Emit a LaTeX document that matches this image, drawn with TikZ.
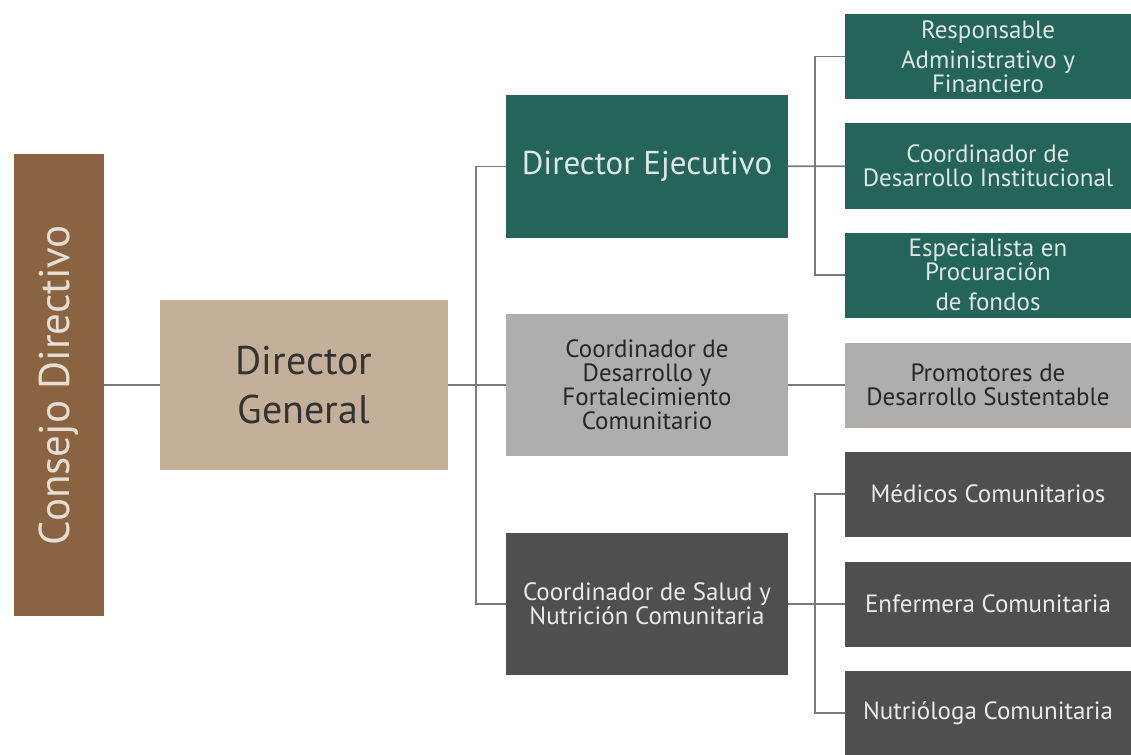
\documentclass[tikz,border=0pt]{standalone}
\usepackage{fontspec}
\setmainfont{PT Sans}
\definecolor{cafe}{HTML}{8A6440}
\definecolor{arena}{HTML}{C4B098}
\definecolor{verde}{HTML}{246459}
\definecolor{grisclaro}{HTML}{B0ADAD}
\definecolor{grisoscuro}{HTML}{4F4F4F}
\definecolor{linea}{HTML}{7A7A7A}
\begin{document}
\begin{tikzpicture}[x=1pt,y=-1pt,
	caja/.style={rectangle,inner sep=0pt,align=center,font=\fontsize{25}{24}\selectfont},
	ejec/.style={caja,fill=verde,text=verde!15},
	comu/.style={caja,fill=grisclaro,text=black!85},
	salud/.style={caja,fill=grisoscuro,text=white!92!black},
	derecha/.style={minimum width=286pt,minimum height=85pt},
	centro/.style={minimum width=282pt,minimum height=142pt},
	liga/.style={draw=linea,line width=1.6pt}]
	\useasboundingbox (0,0) rectangle (1131,754);
	% columna izquierda
	\node[caja,fill=cafe,text=arena!40,minimum width=90pt,minimum height=462pt] (consejo) at (59,385)
		{\rotatebox{90}{\fontsize{43}{43}\selectfont Consejo Directivo}};
	\node[caja,fill=arena,text=black!80,minimum width=288pt,minimum height=170pt,font=\fontsize{40}{49}\selectfont] (general) at (304,385) {Director\\General};
	% columna central
	\node[ejec,centro,font=\fontsize{33}{33}\selectfont] (ejecutivo) at (647,166.5) {Director Ejecutivo};
	\node[comu,centro] (fortalecimiento) at (647,385) {Coordinador de\\Desarrollo y\\Fortalecimiento\\Comunitario};
	\node[salud,centro] (salud) at (647,604) {Coordinador de Salud y\\Nutrición Comunitaria};
	% columna derecha
	\node[ejec,derecha] (admin) at (988,56.5) {Responsable\\[6pt]Administrativo y\\Financiero};
	\node[ejec,derecha] (institucional) at (988,166) {Coordinador de\\Desarrollo Institucional};
	\node[ejec,derecha] (fondos) at (988,275) {Especialista en\\Procuración\\[6pt]de fondos};
	\node[comu,derecha] (promotores) at (988,385) {Promotores de\\Desarrollo Sustentable};
	\node[salud,derecha] (medicos) at (988,494) {Médicos Comunitarios};
	\node[salud,derecha] (enfermera) at (988,604) {Enfermera Comunitaria};
	\node[salud,derecha] (nutriologa) at (988,713) {Nutrióloga Comunitaria};
	% conectores
	\draw[liga] (consejo) -- (general);
	\draw[liga] (general) -- (fortalecimiento);
	\draw[liga] (ejecutivo.west) -- ++(-30,0) |- (salud.west);
	\draw[liga] (ejecutivo) -- (institucional);
	\draw[liga] (admin.west) -- ++(-30,0) |- (fondos.west);
	\draw[liga] (fortalecimiento) -- (promotores);
	\draw[liga] (salud) -- (enfermera);
	\draw[liga] (medicos.west) -- ++(-30,0) |- (nutriologa.west);
\end{tikzpicture}
\end{document}
